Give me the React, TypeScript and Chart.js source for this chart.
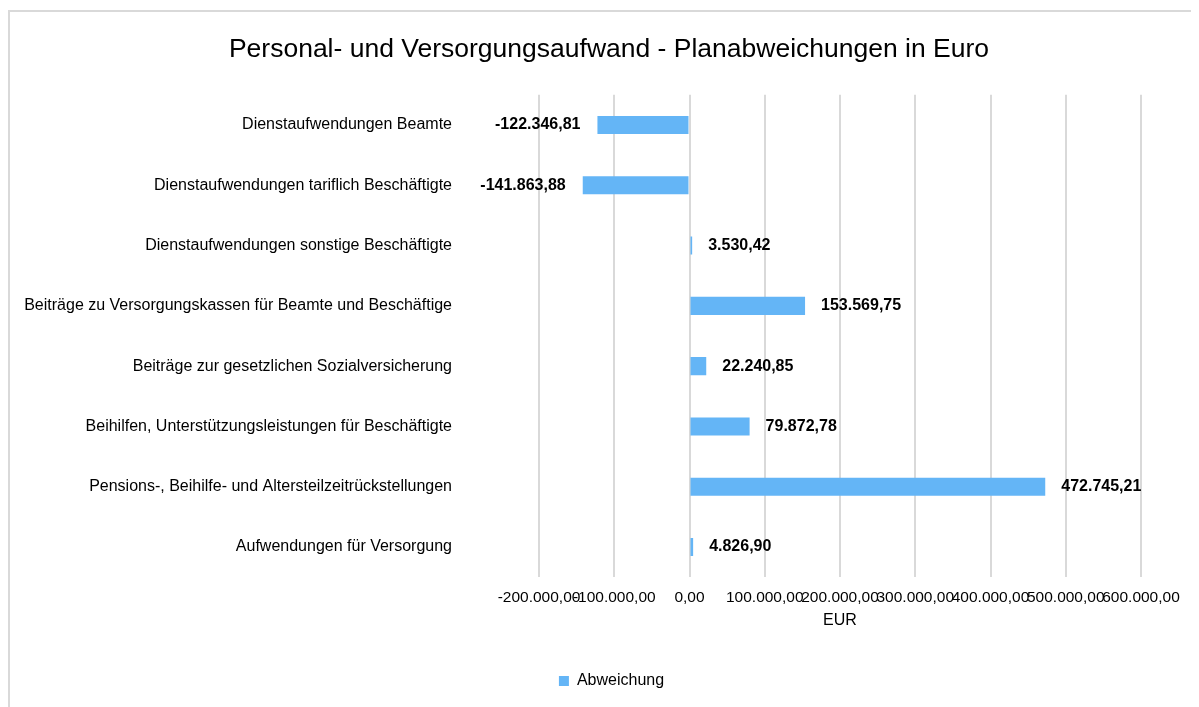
import React, { useEffect, useRef } from "react";
import { Chart, registerables } from "chart.js";

Chart.register(...registerables);

const categories = [
  "Dienstaufwendungen Beamte",
  "Dienstaufwendungen tariflich Beschäftigte",
  "Dienstaufwendungen sonstige Beschäftigte",
  "Beiträge zu Versorgungskassen für Beamte und Beschäftige",
  "Beiträge zur gesetzlichen Sozialversicherung",
  "Beihilfen, Unterstützungsleistungen für Beschäftigte",
  "Pensions-, Beihilfe- und Altersteilzeitrückstellungen",
  "Aufwendungen für Versorgung",
];
const abweichung = [-122346.81, -141863.88, 3530.42, 153569.75, 22240.85, 79872.78, 472745.21, 4826.9];
const xMin = -200000;
const xMax = 600000;
const xStep = 100000;

const fmt = (v: number) =>
  v.toLocaleString("de-DE", { minimumFractionDigits: 2, maximumFractionDigits: 2 });

const FONT = "'Liberation Sans', Arial, sans-serif";

const dataLabelPlugin = {
  id: "dataLabels",
  afterLayout(chart: any) {
    if (chart.titleBlock) {
      chart.titleBlock.left = 0;
      chart.titleBlock.right = 1198;
    }
    if (chart.legend) {
      chart.legend.left = 0;
      chart.legend.right = 1203;
    }
  },
  afterDatasetsDraw(chart: any) {
    const ctx = chart.ctx;
    const meta = chart.getDatasetMeta(0);
    ctx.save();
    ctx.font = `bold 16px ${FONT}`;
    ctx.fillStyle = "#000";
    ctx.textBaseline = "middle";
    meta.data.forEach((bar: any, i: number) => {
      const v = abweichung[i];
      const txt = fmt(v);
      if (v < 0) {
        ctx.textAlign = "right";
        ctx.fillText(txt, bar.x - 17, bar.y);
      } else {
        ctx.textAlign = "left";
        ctx.fillText(txt, bar.x + 16, bar.y);
      }
    });
    ctx.restore();
  },
};

export default function App() {
  const ref = useRef<HTMLCanvasElement>(null);
  useEffect(() => {
    if (!ref.current) return;
    const chart = new Chart(ref.current, {
      type: "bar",
      data: {
        labels: categories,
        datasets: [
          {
            label: "Abweichung",
            data: abweichung,
            backgroundColor: "#64B5F6",
            borderWidth: 0,
            barPercentage: 0.6,
            categoryPercentage: 0.5,
          },
        ],
      },
      options: {
        indexAxis: "y",
        animation: false,
        responsive: false,
        maintainAspectRatio: false,
        layout: { padding: { left: 0, right: 58, top: 0, bottom: 8 } },
        plugins: {
          title: {
            display: true,
            text: "Personal- und Versorgungsaufwand - Planabweichungen in Euro",
            color: "#000",
            font: { family: FONT, size: 26.5, weight: "normal" },
            padding: { top: 22, bottom: 29 },
          },
          legend: {
            display: true,
            position: "bottom",
            labels: {
              color: "#000",
              font: { family: FONT, size: 16 },
              boxWidth: 10,
              boxHeight: 10,
              padding: 10,
            },
          },
          tooltip: { enabled: false },
        },
        scales: {
          x: {
            min: xMin,
            max: xMax,
            ticks: {
              stepSize: xStep,
              color: "#000",
              font: { family: FONT, size: 15.5 },
              padding: 11,
              maxRotation: 0,
              autoSkip: false,
              callback: (v: any) => fmt(Number(v)),
            },
            grid: { color: "#d9d9d9", lineWidth: 2, drawTicks: false },
            border: { display: false },
            title: {
              display: true,
              text: "EUR",
              color: "#000",
              font: { family: FONT, size: 16 },
              padding: { top: -7, bottom: 33 },
            },
          },
          y: {
            ticks: {
              color: "#000",
              font: { family: FONT, size: 16 },
              padding: 0,
            },
            grid: { display: false, drawTicks: true, tickLength: 87 },
            border: { display: false },
            afterFit: (scale: any) => {
              scale.width = 529;
            },
          },
        },
      },
      plugins: [dataLabelPlugin],
    });
    return () => chart.destroy();
  }, []);
  return (
    <div
      style={{
        marginTop: 2,
        borderTop: "2px solid #d9d9d9",
        borderLeft: "2px solid #d9d9d9",
        width: 1189,
        height: 695,
        overflow: "hidden",
      }}
    >
      <canvas ref={ref} width={1189} height={695} style={{ display: "block" }} />
    </div>
  );
}
